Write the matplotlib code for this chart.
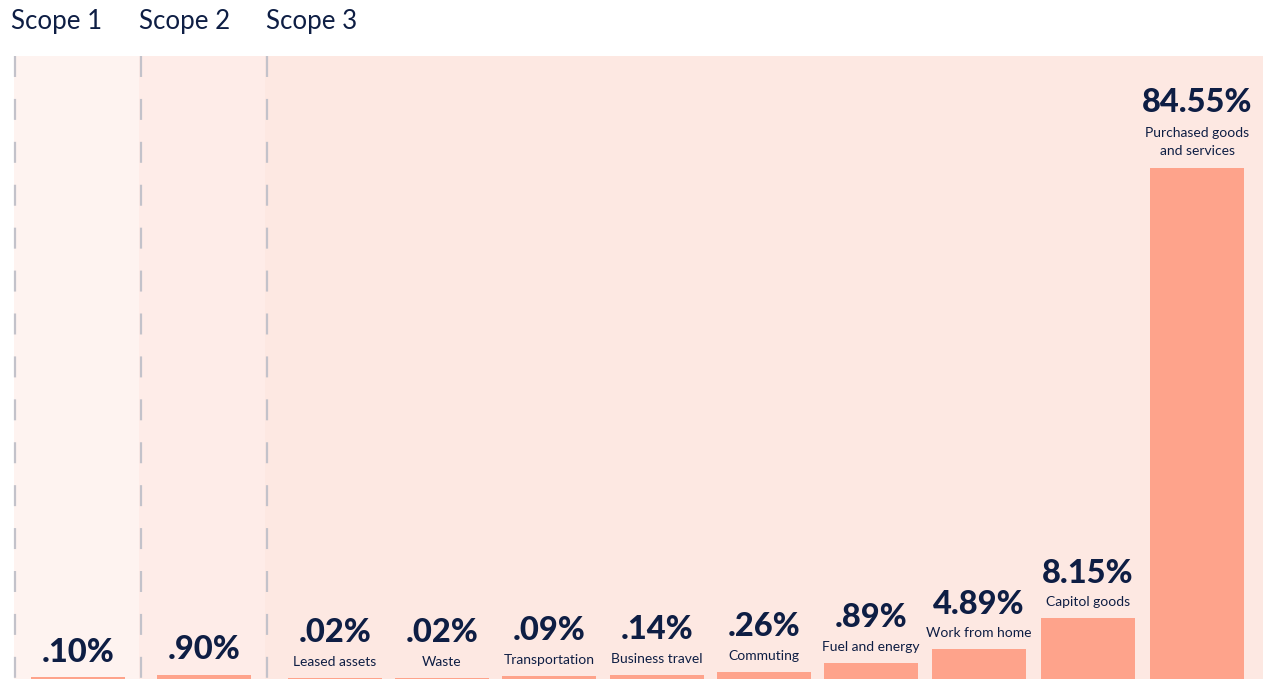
import matplotlib
matplotlib.use("Agg")
import matplotlib.pyplot as plt

# ---- data ----
categories = ["", "", "Leased assets", "Waste", "Transportation", "Business travel",
              "Commuting", "Fuel and energy", "Work from home", "Capitol goods",
              "Purchased goods\nand services"]
value_labels = [".10%", ".90%", ".02%", ".02%", ".09%", ".14%", ".26%", ".89%",
                "4.89%", "8.15%", "84.55%"]
values = [0.10, 0.90, 0.02, 0.02, 0.09, 0.14, 0.26, 0.89, 4.89, 8.15, 84.55]
# drawn bar heights (same % scale, small bars have a minimum height)
bar_heights = [0.33, 0.71, 0.17, 0.17, 0.55, 0.71, 1.16, 2.65, 4.96, 10.09, 84.55]
scopes = ["Scope 1", "Scope 2", "Scope 3"]

# ---- layout ----
W, H = 1263, 679
PX_PER_UNIT = 511 / 84.55
x_centers = [78, 204, 335, 442, 549, 657, 764, 871, 979, 1088, 1197]
bar_w = 94
panel_edges = [14, 139, 265, W]
panel_colors = ["#fef3f0", "#feece8", "#fde8e2"]
dash_x = [15, 140.5, 266.5]
title_x = [11, 139, 266]
panel_top_px = 56

NAVY = "#0e1e44"
BAR = "#fea38b"

plt.rcParams["font.family"] = ["Lato", "DejaVu Sans"]
plt.rcParams["lines.scale_dashes"] = False

fig = plt.figure(figsize=(W / 100, H / 100), dpi=100)
fig.patch.set_facecolor("white")
ax = fig.add_axes([0, 0, 1, 1])
ax.set_xlim(0, W)
ytop = H / PX_PER_UNIT
ax.set_ylim(0, ytop)
ax.axis("off")

panel_top = (H - panel_top_px) / PX_PER_UNIT
for i in range(3):
    ax.add_patch(plt.Rectangle((panel_edges[i], 0), panel_edges[i + 1] - panel_edges[i],
                               panel_top, facecolor=panel_colors[i], edgecolor="none", zorder=0))
for x in dash_x:
    ax.plot([x, x], [panel_top, 0], color="#c3c2ca", lw=1.6,
            dashes=(15.1, 15.8), zorder=1, solid_capstyle="butt", dash_capstyle="butt")

ax.bar(x_centers, bar_heights, width=bar_w, color=BAR, zorder=2, align="center")

for x, h, cat, lab in zip(x_centers, bar_heights, categories, value_labels):
    if cat:
        n = cat.count("\n") + 1
        cat_center = 16 + (n - 1) * 10
        ax.annotate(cat, xy=(x, h), xytext=(0, cat_center), textcoords="offset pixels",
                    ha="center", va="center", fontsize=10, color=NAVY,
                    linespacing=1.65, zorder=3)
        val_center = cat_center + (n - 1) * 10 + 29
    else:
        val_center = 25
    ax.annotate(lab, xy=(x, h), xytext=(0, val_center), textcoords="offset pixels",
                ha="center", va="center", fontsize=23.5, fontweight="black", color=NAVY, zorder=3)

for x, s in zip(title_x, scopes):
    fig.text(x / W, 1 - 21 / H, s, ha="left", va="center", fontsize=18.6, color=NAVY)

fig.savefig("out.png", dpi=100, facecolor="white")
